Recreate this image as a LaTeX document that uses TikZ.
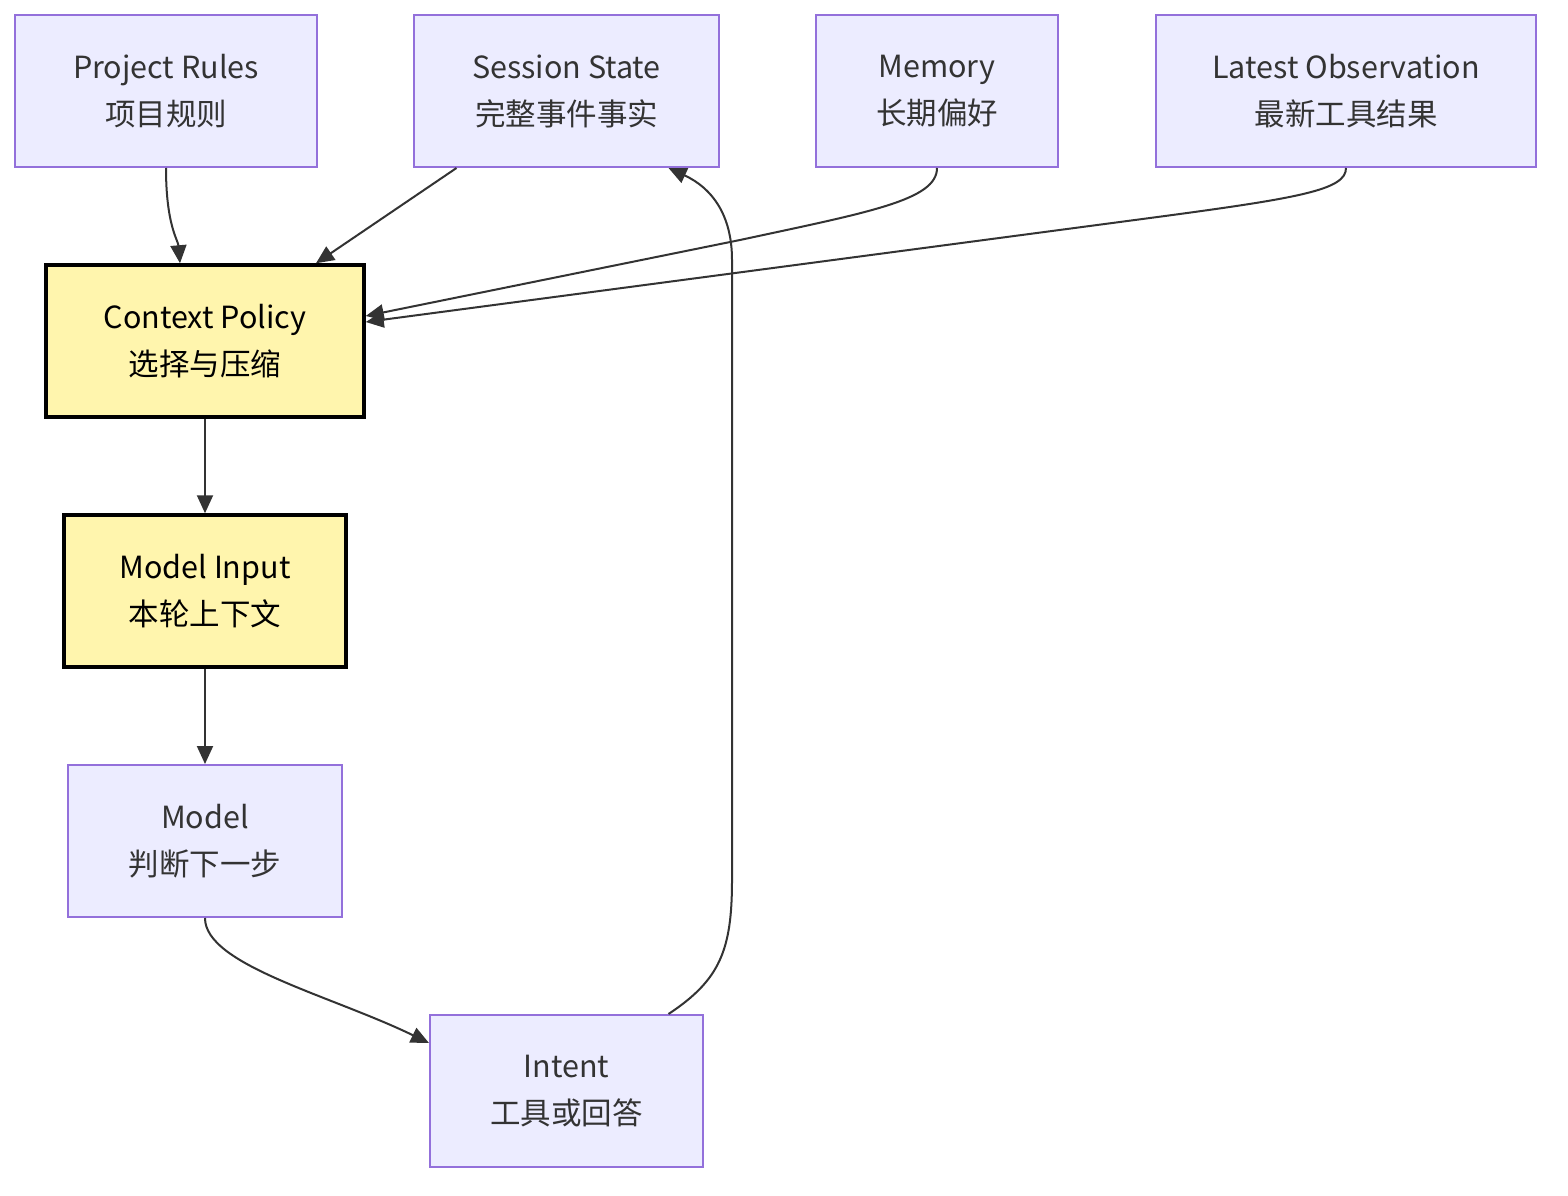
\documentclass[tikz,border=0pt]{standalone}
\usepackage{fontspec}
\setmainfont{Noto Sans CJK SC}
\usetikzlibrary{arrows.meta}
\definecolor{boxfill}{HTML}{ECECFF}
\definecolor{boxline}{HTML}{9370DB}
\definecolor{hlfill}{HTML}{FFF5AD}
\definecolor{ink}{HTML}{333333}
\tikzset{
  box/.style={draw=boxline,fill=boxfill,line width=2pt,text=ink,align=center,
    inner sep=0pt,minimum height=152pt,font=\fontsize{30.5}{47}\selectfont},
  hlbox/.style={box,draw=black,fill=hlfill,line width=3.5pt,text=black},
  link/.style={draw=ink,line width=2pt,-{Triangle[length=18pt,width=16pt]}}
}

\begin{document}
\begin{tikzpicture}[x=1pt,y=-1pt]
  \useasboundingbox[fill=white] (0,0) rectangle (1568,1196);
  % sources
  \node[box,minimum width=302pt] (rules) at (166,91) {Project Rules\\项目规则};
  \node[box,minimum width=305pt] (session) at (566.5,91) {Session State\\完整事件事实};
  \node[box,minimum width=242pt] (memory) at (937,91) {Memory\\长期偏好};
  \node[box,minimum width=380pt] (obs) at (1346,91) {Latest Observation\\最新工具结果};
  % context assembly
  \node[hlbox,minimum width=318pt] (policy) at (205,341) {Context Policy\\选择与压缩};
  \node[hlbox,minimum width=282pt] (input) at (205,591) {Model Input\\本轮上下文};
  % model loop
  \node[box,minimum width=274pt] (model) at (205,841) {Model\\判断下一步};
  \node[box,minimum width=273pt] (intent) at (566.5,1091) {Intent\\工具或回答};
  % edges into the policy
  \draw[link] (rules.south) .. controls (166,225) and (178,240) .. ([xshift=-25pt]policy.north);
  \draw[link] ([xshift=-110pt]session.south) -- ([xshift=111pt]policy.north);
  \draw[link] (memory.south) .. controls (937,200) and (870,212) .. (740,240)
    -- ([yshift=25pt]policy.east);
  \draw[link] (obs.south) .. controls (1346,190) and (1300,198) .. (1150,218)
    -- ([yshift=19pt]policy.east);
  % main chain
  \draw[link] (policy) -- (input);
  \draw[link] (input) -- (model);
  \draw[link] (model.south) .. controls (205,965) and (330,995) .. ([yshift=48pt]intent.west);
  % feedback to session state
  \draw[link] ([xshift=102pt]intent.north) .. controls (720,980) and (732,950) .. (732,880)
    -- (732,260) .. controls (732,215) and (712,188) .. ([xshift=102pt]session.south);
\end{tikzpicture}
\end{document}
